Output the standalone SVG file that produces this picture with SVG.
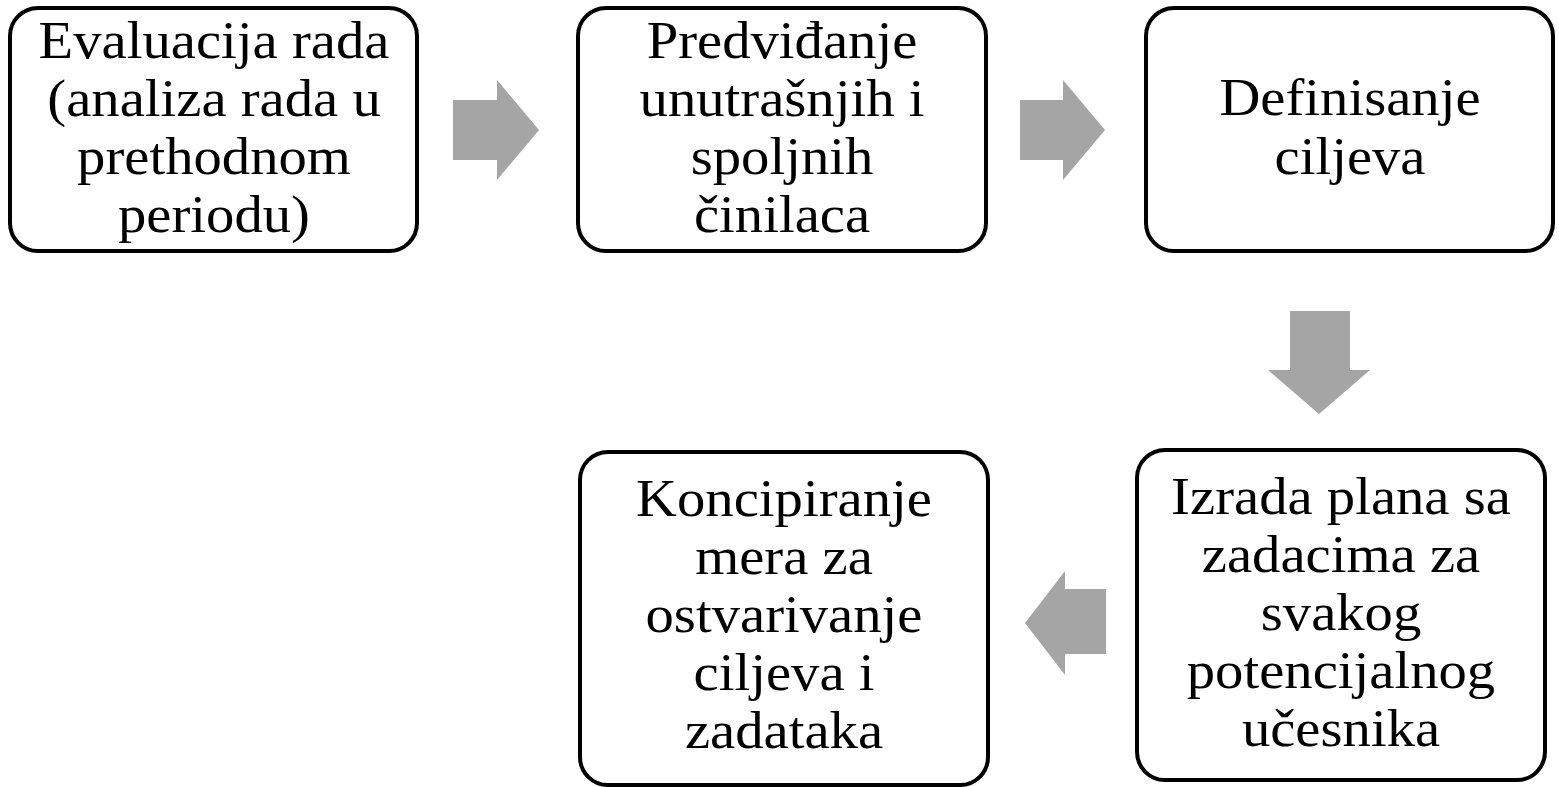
<svg xmlns="http://www.w3.org/2000/svg" width="1559" height="787" viewBox="0 0 1559 787">
<style>
.box{fill:#fff;stroke:#000;stroke-width:4}
.lbl{font-family:"Liberation Serif","Times New Roman",serif;font-size:52px;fill:#000;text-anchor:middle}
.arr{fill:#a5a5a5}
</style>
<rect width="1559" height="787" fill="#fff"/>
<g id="connectors">
<polygon class="arr" points="453,100 497,100 497,80 539,130 497,180 497,160 453,160"/>
<polygon class="arr" points="1020,100 1063,100 1063,80 1105,130 1063,180 1063,160 1020,160"/>
<polygon class="arr" points="1290,311 1350,311 1350,370 1370,370 1319,414 1268,370 1290,370"/>
<polygon class="arr" points="1106,589 1065,589 1065,571 1025,623 1065,675 1065,654 1106,654"/>
</g>
<g id="n1">
<rect class="box" x="10" y="8" width="407" height="243" rx="28"/>
<text class="lbl" transform="translate(214 0) scale(1.09 1)"><tspan x="0" y="58">Evaluacija rada</tspan><tspan x="0" y="116">(analiza rada u</tspan><tspan x="0" y="174">prethodnom</tspan><tspan x="0" y="232">periodu)</tspan></text>
</g>
<g id="n2">
<rect class="box" x="578" y="8" width="408" height="243" rx="28"/>
<text class="lbl" transform="translate(782 0) scale(1.09 1)"><tspan x="0" y="58">Predviđanje</tspan><tspan x="0" y="116">unutrašnjih i</tspan><tspan x="0" y="174">spoljnih</tspan><tspan x="0" y="232">činilaca</tspan></text>
</g>
<g id="n3">
<rect class="box" x="1146" y="8" width="407" height="243" rx="28"/>
<text class="lbl" transform="translate(1350 0) scale(1.09 1)"><tspan x="0" y="115">Definisanje</tspan><tspan x="0" y="174">ciljeva</tspan></text>
</g>
<g id="n4">
<rect class="box" x="1137" y="450" width="408" height="330" rx="28"/>
<text class="lbl" transform="translate(1341 0) scale(1.09 1)"><tspan x="0" y="514">Izrada plana sa</tspan><tspan x="0" y="572">zadacima za</tspan><tspan x="0" y="630">svakog</tspan><tspan x="0" y="688">potencijalnog</tspan><tspan x="0" y="746">učesnika</tspan></text>
</g>
<g id="n5">
<rect class="box" x="580" y="452" width="408" height="333" rx="28"/>
<text class="lbl" transform="translate(784 0) scale(1.09 1)"><tspan x="0" y="516">Koncipiranje</tspan><tspan x="0" y="574">mera za</tspan><tspan x="0" y="632">ostvarivanje</tspan><tspan x="0" y="690">ciljeva i</tspan><tspan x="0" y="748">zadataka</tspan></text>
</g>
</svg>
